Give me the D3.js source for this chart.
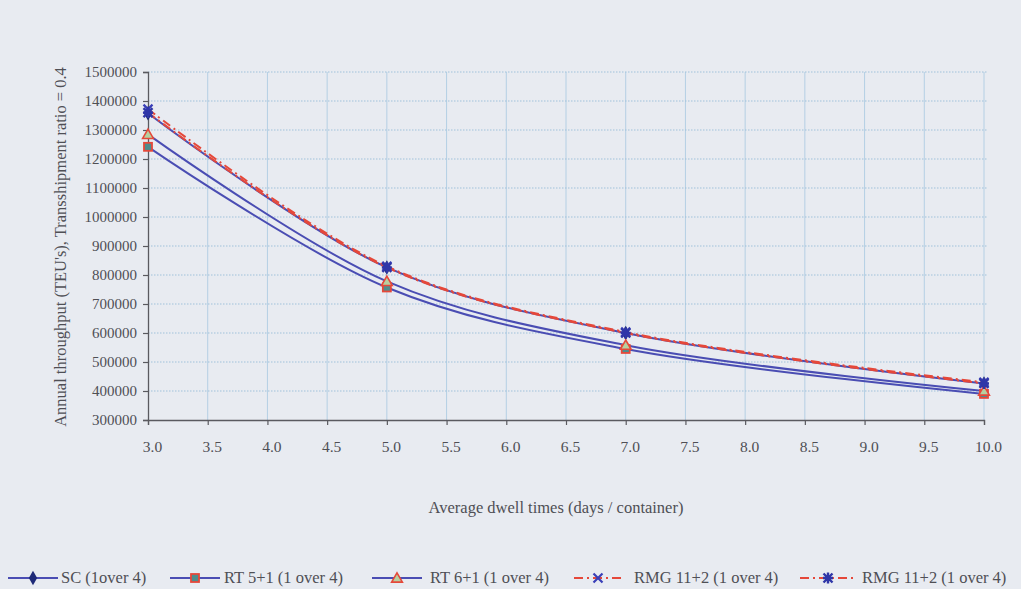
<!DOCTYPE html>
<html>
<head>
<meta charset="utf-8">
<script src="https://cdn.jsdelivr.net/npm/d3@7"></script>
<style>
  html, body { margin: 0; padding: 0; background: #e8ebf1; }
  svg { display: block; }
  text { font-family: "Liberation Serif", "DejaVu Serif", serif; fill: #4f4f55; }
</style>
</head>
<body>
<svg id="chart" width="1021" height="589"></svg>
<script>
// Average dwell time (days / container)
const dwellTimes = [3, 5, 7, 10];

// Annual throughput (TEU's) per equipment system
const scValues     = [1358000, 826000, 600000, 426000];
const rt51Values   = [1242000, 757000, 545000, 390000];
const rt61Values   = [1285000, 778000, 558000, 400000];
const rmgXValues   = [1372000, 830000, 603000, 430000];
const rmgStarValues = [1360000, 826000, 600000, 426000];

const seriesNames = [
  "SC (1over 4)",
  "RT 5+1 (1 over 4)",
  "RT 6+1 (1 over 4)",
  "RMG 11+2 (1 over 4)",
  "RMG 11+2 (1 over 4)"
];

const xTicks = [3.0, 3.5, 4.0, 4.5, 5.0, 5.5, 6.0, 6.5, 7.0, 7.5, 8.0, 8.5, 9.0, 9.5, 10.0];
const yTicks = [300000, 400000, 500000, 600000, 700000, 800000, 900000, 1000000,
                1100000, 1200000, 1300000, 1400000, 1500000];

const blue = "#4a4db3";
const red = "#e5483a";

const series = [
  { name: seriesNames[0], values: scValues,     color: blue, dash: null,        marker: "diamond" },
  { name: seriesNames[1], values: rt51Values,   color: blue, dash: null,        marker: "square" },
  { name: seriesNames[2], values: rt61Values,   color: blue, dash: null,        marker: "triangle" },
  { name: seriesNames[3], values: rmgXValues,   color: red,  dash: "9,4,2,4",   marker: "cross" },
  { name: seriesNames[4], values: rmgStarValues, color: red, dash: "9,4,2,4",   marker: "star" }
];

const svg = d3.select("#chart");
const plotLeft = 148, plotRight = 984, plotTop = 72, plotBottom = 420;

const x = d3.scaleLinear().domain([3, 10]).range([plotLeft, plotRight]);
const y = d3.scaleLinear().domain([300000, 1500000]).range([plotBottom, plotTop]);

// grid
const grid = svg.append("g");
grid.selectAll("line.v").data(xTicks.slice(1)).join("line")
  .attr("x1", d => x(d)).attr("x2", d => x(d))
  .attr("y1", plotTop).attr("y2", plotBottom)
  .attr("stroke", "#b4cfe4").attr("stroke-width", 1);
grid.selectAll("line.h").data(yTicks.slice(1)).join("line")
  .attr("x1", plotLeft).attr("x2", plotRight + 4)
  .attr("y1", d => y(d)).attr("y2", d => y(d))
  .attr("stroke", "#9fc2dc").attr("stroke-width", 1.2)
  .attr("stroke-dasharray", "1.5,1.5");

// axes
const yAxis = d3.axisLeft(y).tickValues(yTicks).tickFormat(d3.format("d")).tickSize(5).tickPadding(6);
const xAxis = d3.axisBottom(x).tickValues(xTicks).tickFormat(d3.format(".1f")).tickSize(5).tickPadding(16);

const gy = svg.append("g").attr("transform", `translate(${plotLeft},0)`).call(yAxis);
const gx = svg.append("g").attr("transform", `translate(0,${plotBottom})`).call(xAxis);
[gx, gy].forEach(g => {
  g.select(".domain").attr("stroke", "#5a5a60").attr("stroke-width", 1.3);
  g.selectAll(".tick line").attr("stroke", "#5a5a60").attr("stroke-width", 1.2);
  g.selectAll(".tick text").style("font-family", "'Liberation Serif', serif")
    .style("font-size", "15px").attr("fill", "#4f4f55");
});
gx.selectAll(".tick text").attr("dx", 4).style("font-size", "15.5px");

// axis titles
svg.append("text")
  .attr("transform", `translate(66,${(plotTop + plotBottom) / 2 + 1}) rotate(-90)`)
  .attr("text-anchor", "middle").style("font-size", "16.5px")
  .text("Annual throughput (TEU's), Transshipment ratio = 0.4");
svg.append("text")
  .attr("x", 556).attr("y", 513).attr("text-anchor", "middle").style("font-size", "16.5px")
  .text("Average dwell times (days / container)");

// markers
function drawMarker(g, type, cx, cy) {
  if (type === "diamond") {
    g.append("path").attr("d", d3.symbol(d3.symbolDiamond, 60)())
      .attr("transform", `translate(${cx},${cy})`).attr("fill", "#1e2a78");
  } else if (type === "square") {
    g.append("rect").attr("x", cx - 4).attr("y", cy - 4).attr("width", 8).attr("height", 8)
      .attr("fill", "#4f8c8c").attr("stroke", red).attr("stroke-width", 1.8);
  } else if (type === "triangle") {
    g.append("path").attr("d", d3.symbol(d3.symbolTriangle, 50)())
      .attr("transform", `translate(${cx},${cy + 1})`)
      .attr("fill", "#b6d0a0").attr("stroke", red).attr("stroke-width", 1.6);
  } else if (type === "cross") {
    g.append("path").attr("d", `M${cx - 4.5},${cy - 4.5}L${cx + 4.5},${cy + 4.5}M${cx - 4.5},${cy + 4.5}L${cx + 4.5},${cy - 4.5}`)
      .attr("stroke", "#3a3fb8").attr("stroke-width", 2.2).attr("fill", "none");
  } else if (type === "star") {
    g.append("path").attr("d", `M${cx - 4.5},${cy - 4.5}L${cx + 4.5},${cy + 4.5}M${cx - 4.5},${cy + 4.5}L${cx + 4.5},${cy - 4.5}M${cx},${cy - 5.5}L${cx},${cy + 5.5}M${cx - 5},${cy}L${cx + 5},${cy}`)
      .attr("stroke", "#2f36a8").attr("stroke-width", 2.4).attr("fill", "none");
  }
}

const line = d3.line()
  .x((d, i) => x(dwellTimes[i]))
  .y(d => y(d))
  .curve(d3.curveCatmullRom.alpha(0.5));

const plot = svg.append("g");
// solid lines first, red dash-dot on top
series.forEach(s => {
  plot.append("path").datum(s.values)
    .attr("d", line).attr("fill", "none")
    .attr("stroke", s.color).attr("stroke-width", 2)
    .attr("stroke-dasharray", s.dash);
});
series.forEach(s => {
  s.values.forEach((v, i) => drawMarker(plot, s.marker, x(dwellTimes[i]), y(v)));
});

// legend
const legendItems = [
  { x0: 8,   x1: 58,  tx: 61 },
  { x0: 170, x1: 220, tx: 224 },
  { x0: 372, x1: 422, tx: 430 },
  { x0: 574, x1: 622, tx: 634 },
  { x0: 800, x1: 856, tx: 862 }
];
const ly = 578;
const legend = svg.append("g");
series.forEach((s, i) => {
  const it = legendItems[i];
  legend.append("line").attr("x1", it.x0).attr("x2", it.x1).attr("y1", ly).attr("y2", ly)
    .attr("stroke", s.color).attr("stroke-width", 2).attr("stroke-dasharray", s.dash);
  drawMarker(legend, s.marker, (it.x0 + it.x1) / 2, ly);
  legend.append("text").attr("x", it.tx).attr("y", ly + 5).style("font-size", "16.5px").text(s.name);
});
</script>
</body>
</html>
